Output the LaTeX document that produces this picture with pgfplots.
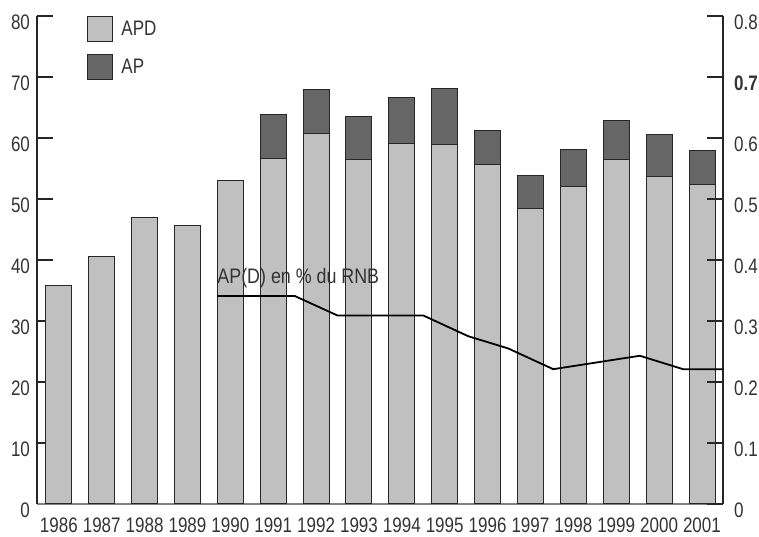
\documentclass[border=0pt]{standalone}
\usepackage{fontspec}
\setmainfont{Liberation Sans}[FakeStretch=0.81]
\newfontfamily\widefont{Liberation Sans}[FakeStretch=0.85]
\usepackage{pgfplots}
\pgfplotsset{compat=1.18}
\definecolor{apd}{HTML}{C0C0C0}
\definecolor{ap}{HTML}{666666}
\definecolor{txt}{HTML}{333333}
\begin{document}
\begin{tikzpicture}
\pgfplotsset{
 common/.style={
  scale only axis,width=343pt,height=244pt,
  xmin=1985.49,xmax=2001.49,ymin=0,
  /pgf/number format/assume math mode=true,
  tick label style={font=\fontsize{10.5}{12}\selectfont,text=txt},
  tick align=inside,major tick length=8pt,
 }
}
\begin{axis}[common,
 ybar stacked,bar width=13pt,ymax=80,
 axis y line*=left,axis x line*=bottom,
 x axis line style={gray,line width=0.8pt},
 y axis line style={black!85,line width=0.6pt},
 ytick={0,10,...,80},
 yticklabel style={yshift=-3pt},
 xtick={1986,...,2001},
 xticklabel style={/pgf/number format/1000 sep={},yshift=-3.5pt},
 x tick style={draw=none},
 y tick style={black!85,line width=0.6pt},
 legend style={draw=none,fill=none,at={(rel axis cs:0.0729,1)},anchor=north west,
   inner sep=0pt,row sep=6pt,font=\fontsize{10.5}{12}\selectfont,
   nodes={text=txt,inner xsep=4pt}},
 legend cell align=left,
 legend image code/.code={\draw[#1] (0pt,-6.25pt) rectangle (12.5pt,6.25pt);},
]
\addplot[fill=apd,draw=black!85,line width=0.5pt] coordinates {
 (1986,35.9) (1987,40.6) (1988,47.0) (1989,45.7) (1990,53.0) (1991,56.6)
 (1992,60.8) (1993,56.4) (1994,59.1) (1995,58.9) (1996,55.6) (1997,48.4)
 (1998,52.0) (1999,56.4) (2000,53.7) (2001,52.3)};
\addlegendentry{APD}
\addplot[fill=ap,draw=black!85,line width=0.5pt] coordinates {
 (1986,0) (1987,0) (1988,0) (1989,0) (1990,0) (1991,7.3)
 (1992,7.1) (1993,7.1) (1994,7.5) (1995,9.2) (1996,5.7) (1997,5.4)
 (1998,6.1) (1999,6.4) (2000,6.8) (2001,5.6)};
\addlegendentry{AP}
\end{axis}
\begin{axis}[common,
 ymax=0.8,
 axis y line*=right,axis x line=none,
 y axis line style={black!85,line width=0.6pt},
 y tick style={black!85,line width=0.6pt},
 ytick={0,0.1,0.2,0.3,0.4,0.5,0.6,0.7,0.8},
 yticklabels={0,0.1,0.2,0.3,0.4,0.5,0.6,\textbf{0.7},0.8},
 yticklabel style={yshift=-3pt,xshift=2pt},
]
\addplot[black,line width=0.9pt] coordinates {
 (1989.69,0.341) (1991.5,0.341) (1992.5,0.309) (1994.5,0.309) (1995.55,0.275)
 (1996.48,0.255) (1997.53,0.221) (1999.55,0.243) (2000.56,0.221) (2001.49,0.221)};
\node[anchor=base west,inner sep=0pt,text=txt,font=\widefont\fontsize{10.5}{12}\selectfont]
 at (axis cs:1989.69,0.361) {AP(D) en \% du RNB};
\end{axis}
\pgfresetboundingbox
\path ([shift={(-18.5pt,-16.5pt)}]current axis.south west)
 rectangle ([shift={(18pt,8pt)}]current axis.north east);
\end{tikzpicture}
\end{document}
